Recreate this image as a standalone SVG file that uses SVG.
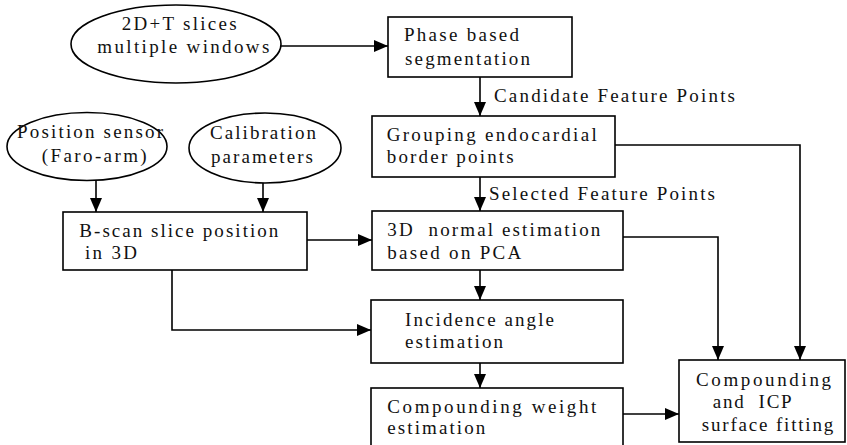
<svg xmlns="http://www.w3.org/2000/svg" width="847" height="445" viewBox="0 0 847 445">
<style>
.n{fill:#fff;stroke:#000;stroke-width:1.6}
.c{fill:none;stroke:#000;stroke-width:1.6}
text{font-family:"Liberation Serif","Times New Roman",serif;font-size:19px;fill:#111}
</style>
<defs>
<marker id="a" markerUnits="userSpaceOnUse" markerWidth="14" markerHeight="14" viewBox="0 0 14 14" refX="14" refY="7" orient="auto">
<path d="M0,1 L14,7 L0,13 Z" fill="#000"/>
</marker>
</defs>
<rect width="847" height="445" fill="#fff"/>
<g id="connectors">
<path class="c" d="M281,46 H388" marker-end="url(#a)"/>
<path class="c" d="M480,77 V116" marker-end="url(#a)"/>
<path class="c" d="M96,180 V212" marker-end="url(#a)"/>
<path class="c" d="M263,183 V212" marker-end="url(#a)"/>
<path class="c" d="M307,240 H372" marker-end="url(#a)"/>
<path class="c" d="M480,177 V211" marker-end="url(#a)"/>
<path class="c" d="M615,145 H800 V360" marker-end="url(#a)"/>
<path class="c" d="M623,237 H718 V360" marker-end="url(#a)"/>
<path class="c" d="M480,270 V300" marker-end="url(#a)"/>
<path class="c" d="M172,270 V330 H371" marker-end="url(#a)"/>
<path class="c" d="M480,363 V388" marker-end="url(#a)"/>
<path class="c" d="M623,414 H679" marker-end="url(#a)"/>
<text x="494" y="101.7" textLength="241" lengthAdjust="spacing">Candidate Feature Points</text>
<text x="489" y="200" textLength="226" lengthAdjust="spacing">Selected Feature Points</text>
</g>
<g id="slices">
<ellipse class="n" cx="176" cy="44" rx="105" ry="39"/>
<text x="121.7" y="30" textLength="115" lengthAdjust="spacing">2D+T slices</text>
<text x="97.3" y="53.3" textLength="172" lengthAdjust="spacing">multiple windows</text>
</g>
<g id="phase">
<rect class="n" x="388" y="17" width="184" height="60"/>
<text x="404" y="40.7" textLength="115" lengthAdjust="spacing">Phase based</text>
<text x="405" y="65" textLength="125" lengthAdjust="spacing">segmentation</text>
</g>
<g id="grouping">
<rect class="n" x="372" y="116" width="243" height="61"/>
<text x="386.7" y="140.7" textLength="210" lengthAdjust="spacing">Grouping endocardial</text>
<text x="386.7" y="163.3" textLength="127" lengthAdjust="spacing">border points</text>
</g>
<g id="position">
<ellipse class="n" cx="87" cy="146.5" rx="80" ry="34"/>
<text x="17" y="137.7" textLength="146" lengthAdjust="spacing">Position sensor</text>
<text x="41.7" y="161.7" textLength="105" lengthAdjust="spacing">(Faro-arm)</text>
</g>
<g id="calibration">
<ellipse class="n" cx="265" cy="148" rx="76" ry="35"/>
<text x="210" y="139" textLength="106" lengthAdjust="spacing">Calibration</text>
<text x="211" y="163.3" textLength="102" lengthAdjust="spacing">parameters</text>
</g>
<g id="bscan">
<rect class="n" x="63" y="212" width="244" height="58"/>
<text x="79.3" y="236.7" textLength="199" lengthAdjust="spacing">B-scan slice position</text>
<text x="85" y="259.3" textLength="52" lengthAdjust="spacing">in 3D</text>
</g>
<g id="normal">
<rect class="n" x="372" y="211" width="251" height="59"/>
<text x="387.3" y="235.7" textLength="213" lengthAdjust="spacing" xml:space="preserve">3D  normal estimation</text>
<text x="387.3" y="259" textLength="134" lengthAdjust="spacing">based on PCA</text>
</g>
<g id="incidence">
<rect class="n" x="371" y="300" width="252" height="63"/>
<text x="405" y="325.7" textLength="149" lengthAdjust="spacing">Incidence angle</text>
<text x="405" y="348.3" textLength="98" lengthAdjust="spacing">estimation</text>
</g>
<g id="weight">
<rect class="n" x="371" y="388" width="252" height="70"/>
<text x="387.3" y="413.3" textLength="209" lengthAdjust="spacing">Compounding weight</text>
<text x="387.3" y="434.3" textLength="98" lengthAdjust="spacing">estimation</text>
</g>
<g id="icp">
<rect class="n" x="679" y="360" width="166" height="82"/>
<text x="696" y="385.7" textLength="135" lengthAdjust="spacing">Compounding</text>
<text x="712.7" y="408.3" textLength="79" lengthAdjust="spacing" xml:space="preserve">and  ICP</text>
<text x="701.7" y="431" textLength="131.6" lengthAdjust="spacing">surface fitting</text>
</g>
</svg>
